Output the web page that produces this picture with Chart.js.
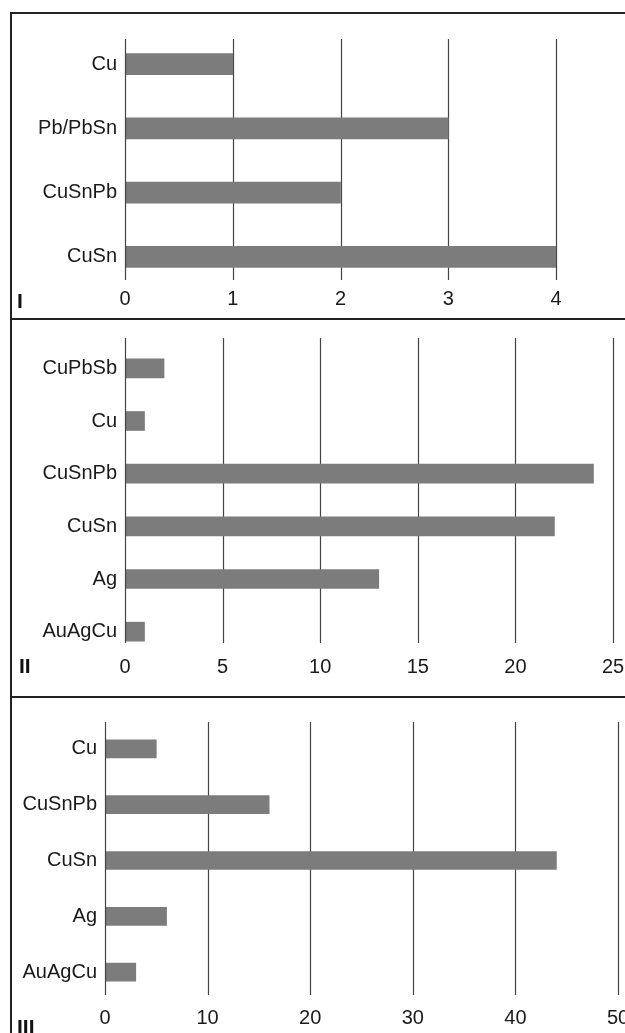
<!DOCTYPE html>
<html>
<head>
<meta charset="utf-8">
<script src="https://cdn.jsdelivr.net/npm/chart.js@4/dist/chart.umd.min.js"></script>
<style>
  html, body { margin: 0; padding: 0; background: #fff; width: 625px; height: 1033px; overflow: hidden; }
  .frame { position: absolute; left: 10px; top: 12px; width: 700px; height: 1100px; border-left: 2px solid #222; border-top: 2px solid #222; box-sizing: border-box; }
  .divider { position: absolute; left: 10px; width: 700px; height: 2px; background: #222; }
  canvas { position: absolute; left: 12px; }
  .plabel { position: absolute; font-family: "Liberation Sans", Arial, sans-serif; font-weight: bold; font-size: 21px; color: #111; line-height: 1; }
</style>
</head>
<body>
<div class="frame"></div>
<div class="divider" style="top:318px"></div>
<div class="divider" style="top:696px"></div>
<canvas id="c1" width="630" height="303" style="top:14px"></canvas>
<canvas id="c2" width="630" height="376" style="top:320px"></canvas>
<canvas id="c3" width="630" height="350" style="top:698px"></canvas>
<div class="plabel" id="l1" style="left:17px; top:290px"></div>
<div class="plabel" id="l2" style="left:19px; top:655px"></div>
<div class="plabel" id="l3" style="left:17px; top:1016px"></div>
<script>
// ---- data ----
const panelLabels = ['I', 'II', 'III'];

const panel1Categories = ['Cu', 'Pb/PbSn', 'CuSnPb', 'CuSn'];
const panel1Values = [1, 3, 2, 4];
const panel1Ticks = [0, 1, 2, 3, 4];

const panel2Categories = ['CuPbSb', 'Cu', 'CuSnPb', 'CuSn', 'Ag', 'AuAgCu'];
const panel2Values = [2, 1, 24, 22, 13, 1];
const panel2Ticks = [0, 5, 10, 15, 20, 25];

const panel3Categories = ['Cu', 'CuSnPb', 'CuSn', 'Ag', 'AuAgCu'];
const panel3Values = [5, 16, 44, 6, 3];
const panel3Ticks = [0, 10, 20, 30, 40, 50];

// ---- rendering ----
const FONT = '"Liberation Sans", Arial, Helvetica, sans-serif';
const TEXT = '#1a1a1a';
const GRID = '#444444';
const BAR = '#7c7c7c';

function drawGrid(chart, opts, zeroOnly) {
  const xs = chart.scales.x, a = chart.chartArea, ctx = chart.ctx;
  ctx.save();
  ctx.strokeStyle = opts.color;
  ctx.lineWidth = opts.width;
  xs.ticks.forEach(t => {
    if (zeroOnly !== (t.value === 0)) return;
    const px = Math.round(xs.getPixelForValue(t.value)) + 0.5;
    ctx.beginPath();
    ctx.moveTo(px, a.top + opts.insetTop);
    ctx.lineTo(px, a.bottom - opts.insetBottom);
    ctx.stroke();
  });
  ctx.restore();
}
const insetGrid = {
  id: 'insetGrid',
  beforeDatasetsDraw(chart, args, opts) { drawGrid(chart, opts, false); },
  afterDatasetsDraw(chart, args, opts) { drawGrid(chart, opts, true); }
};

function makeChart(id, cats, vals, tickVals, lay) {
  return new Chart(document.getElementById(id), {
    type: 'bar',
    data: {
      labels: cats,
      datasets: [{ data: vals, backgroundColor: BAR, borderWidth: 0, barThickness: lay.bar }]
    },
    options: {
      indexAxis: 'y',
      responsive: false,
      animation: false,
      events: [],
      layout: { padding: { left: 0, right: lay.right, top: lay.top, bottom: lay.bottom } },
      plugins: {
        legend: { display: false },
        tooltip: { enabled: false },
        insetGrid: { color: GRID, width: 1.2, insetTop: lay.insetTop, insetBottom: lay.insetBottom }
      },
      scales: {
        x: {
          type: 'linear',
          min: tickVals[0],
          max: tickVals[tickVals.length - 1],
          afterBuildTicks: s => { s.ticks = tickVals.map(v => ({ value: v })); },
          grid: { display: false, drawTicks: false },
          border: { display: false },
          ticks: { color: TEXT, font: { family: FONT, size: 20, lineHeight: 1 }, padding: lay.tickPad, maxRotation: 0, autoSkip: false }
        },
        y: {
          afterFit: s => { s.width = lay.yWidth; },
          grid: { display: false, drawTicks: false },
          border: { display: false },
          ticks: { color: TEXT, font: { family: FONT, size: 20, lineHeight: 1 }, padding: 8 }
        }
      }
    },
    plugins: [insetGrid]
  });
}

makeChart('c1', panel1Categories, panel1Values, panel1Ticks,
  { yWidth: 113, right: 86, top: 16, bottom: 8, tickPad: 0, bar: 21, insetTop: 7, insetBottom: 9 });
makeChart('c2', panel2Categories, panel2Values, panel2Ticks,
  { yWidth: 113, right: 29, top: 22, bottom: 20, tickPad: -1, bar: 19, insetTop: -4, insetBottom: 15 });
makeChart('c3', panel3Categories, panel3Values, panel3Ticks,
  { yWidth: 93, right: 24, top: 23, bottom: 12, tickPad: 8, bar: 18, insetTop: 1, insetBottom: 5 });

document.getElementById('l1').textContent = panelLabels[0];
document.getElementById('l2').textContent = panelLabels[1];
document.getElementById('l3').textContent = panelLabels[2];
</script>
</body>
</html>
